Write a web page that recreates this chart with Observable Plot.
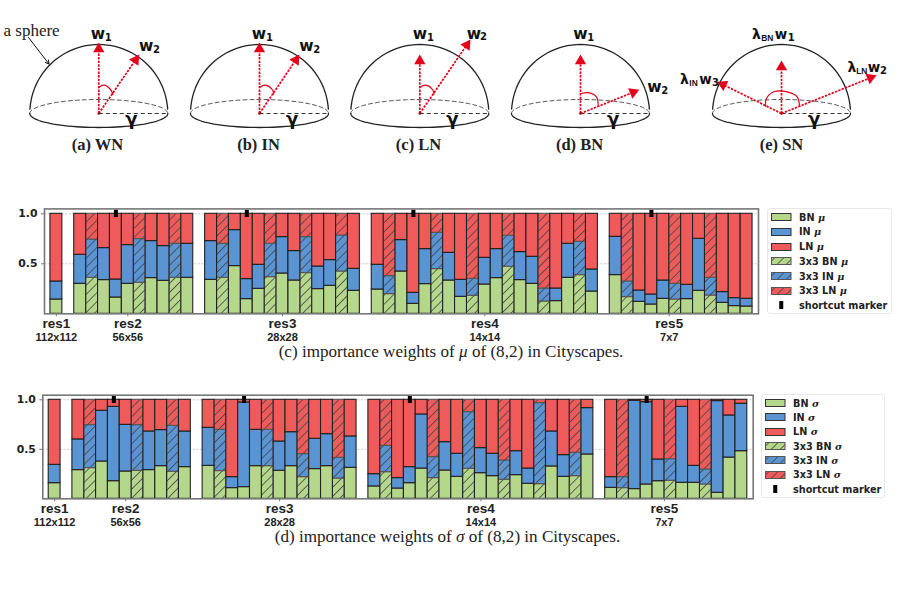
<!DOCTYPE html>
<html>
<head>
<meta charset="utf-8">
<script src="https://cdn.jsdelivr.net/npm/d3@7"></script>
<script src="https://cdn.jsdelivr.net/npm/@observablehq/plot@0.6"></script>
<style>
  html, body { margin: 0; padding: 0; background: #fff; }
  #page { position: relative; width: 900px; height: 600px; overflow: hidden; background: #fff; }
  .layer { position: absolute; left: 0; }
  .layer svg { display: block; overflow: visible; background: transparent; }
  .caption { position: absolute; transform: translate(-50%, -50%); white-space: nowrap;
             font-family: "Liberation Serif", serif; font-size: 17.1px; color: #222; }
  .legend { position: absolute; box-sizing: border-box; border: 1px solid #e8e8e8; border-radius: 3px; background: #fff; }
  .legend .row { position: absolute; left: 0; display: flex; align-items: center; height: 12px;
                 font-family: "DejaVu Sans", sans-serif; font-weight: 700; font-size: 9.7px; color: #222; white-space: nowrap; }
  .legend .row svg { flex: none; margin-left: 3.5px; margin-right: 7.5px; }
  .legend .row i { font-family: "DejaVu Serif", serif; }
</style>
</head>
<body>
<svg width="0" height="0" style="position:absolute">
  <defs id="defs"></defs>
</svg>
<div id="page"></div>
<script>
// ---------- colours ----------
const green = "#b5d78c", blue = "#5b94d3", red = "#ef5b5b";
const redArrow = "#e3001b";

// ---------- bar layout ----------
const resNames = ["res1", "res2", "res3", "res4", "res5"];
const resSizes = ["112x112", "56x56", "28x28", "14x14", "7x7"];
const resStart = [0, 2, 13, 27, 47];
const resCount = [1, 10, 13, 19, 12];
const resCenters = [0.5, 6.5, 19.5, 36.5, 52];
const hatchedSlots = [3, 7, 10, 14, 18, 21, 24, 28, 32, 35, 38, 41, 44, 48, 52, 55];
const shortcutSlots = [5, 16, 30, 50];

// ---------- (c) importance weights of mu ----------
const muBN = [0.143,
  0.30, 0.36, 0.337, 0.163, 0.30, 0.31, 0.357, 0.33, 0.36, 0.36,
  0.34, 0.36, 0.477, 0.147, 0.25, 0.367, 0.403, 0.333, 0.407, 0.247, 0.28, 0.423, 0.23,
  0.243, 0.197, 0.423, 0.10, 0.297, 0.447, 0.333, 0.17, 0.18, 0.293, 0.357, 0.47, 0.337, 0.30, 0.123, 0.127, 0.36, 0.387, 0.223,
  0.387, 0.167, 0.12, 0.093, 0.15, 0.143, 0.147, 0.23, 0.183, 0.11, 0.077, 0.073];
const muBNplusIN = [0.323,
  0.59, 0.743, 0.657, 0.343, 0.687, 0.747, 0.727, 0.677, 0.70, 0.70,
  0.727, 0.70, 0.837, 0.347, 0.49, 0.70, 0.767, 0.627, 0.767, 0.473, 0.537, 0.783, 0.45,
  0.49, 0.377, 0.737, 0.21, 0.647, 0.81, 0.61, 0.34, 0.35, 0.56, 0.647, 0.78, 0.617, 0.57, 0.253, 0.253, 0.70, 0.72, 0.443,
  0.77, 0.323, 0.233, 0.193, 0.333, 0.30, 0.29, 0.75, 0.36, 0.217, 0.157, 0.15];

// ---------- (d) importance weights of sigma ----------
const sigmaBN = [0.158,
  0.29, 0.31, 0.377, 0.178, 0.276, 0.283, 0.29, 0.33, 0.273, 0.32,
  0.333, 0.28, 0.108, 0.118, 0.33, 0.33, 0.283, 0.33, 0.219, 0.30, 0.33, 0.205, 0.313,
  0.125, 0.269, 0.104, 0.158, 0.306, 0.209, 0.286, 0.222, 0.303, 0.259, 0.229, 0.192, 0.239, 0.152, 0.148, 0.327, 0.222, 0.229, 0.448,
  0.111, 0.108, 0.098, 0.145, 0.178, 0.182, 0.162, 0.162, 0.145, 0.061, 0.417, 0.481];
const sigmaBNplusIN = [0.343,
  0.60, 0.744, 0.889, 0.929, 0.747, 0.744, 0.68, 0.694, 0.737, 0.68,
  0.717, 0.697, 0.219, 0.973, 0.697, 0.697, 0.579, 0.673, 0.451, 0.606, 0.653, 0.414, 0.63,
  0.249, 0.535, 0.209, 0.32, 0.852, 0.421, 0.572, 0.455, 0.875, 0.512, 0.455, 0.387, 0.481, 0.306, 0.966, 0.68, 0.441, 0.465, 0.916,
  0.219, 0.219, 0.99, 0.976, 0.397, 0.40, 0.929, 0.333, 0.296, 0.987, 0.842, 0.96];

// ---------- sphere diagrams ----------
const domeCenters = [98.3, 259, 419.3, 580, 781];
const domeBaseY = 113;
const domeRadius = 69;
const domeFlat = 14;
const panelNames = ["(a) WN", "(b) IN", "(c) LN", "(d) BN", "(e) SN"];
const panelNameX = [97, 258, 418, 579, 781];
const arrowDome = [0, 0, 1, 1, 2, 2, 3, 3, 4, 4, 4];
const arrowDx = [0, 38.7, 0, 38.3, 0, 49, 0, 56, 0, 92.3, -61.7];
const arrowDy = [-68, -56.5, -68, -56.5, -56, -71.5, -56, -22.5, -50, -37, -30.5];
const angleDome = [0, 1, 2, 3, 4];
const angleDx = [[0, 5, 11.7, 14.3], [0, 6, 12.7, 14.3], [0, 6, 12.7, 14.3], [0, 9.3, 16, 17.7], [-16, -15, -7.7, 5.7, 15.7, 18]];
const angleDy = [[-26, -28.3, -24, -19], [-26, -28.3, -24, -19.3], [-26, -28.3, -24, -19.3], [-20, -20.7, -16.7, -8.3], [-7.3, -15, -21.7, -21.7, -16.7, -7.3]];
const bigLabelText = ["w", "w", "w", "w", "w", "w", "w", "w", "w", "w", "w"];
const bigLabelX = [97.3, 145.7, 258.3, 306, 419.3, 473.3, 580, 654, 780.5, 873.5, 705];
const bigLabelY = [34, 46, 34, 46, 34, 33.5, 34, 87, 34, 67, 79];
const bigLabelSize = [15.5, 15.5, 15.5, 15.5, 15.5, 15.5, 15.5, 15.5, 13.5, 13.5, 13.5];
const smallLabelText = ["1", "2", "1", "2", "1", "2", "1", "2", "1", "2", "3"];
const smallLabelX = [107.8, 156, 268.9, 316.3, 430, 483, 590.3, 664.3, 790.7, 883, 715];
const smallLabelY = [37, 49, 37, 49, 37, 36.5, 37, 90, 37, 70, 82];
const lambdaX = [756, 851.5, 684];
const lambdaY = [34, 67, 79];
const lambdaSub = ["BN", "LN", "IN"];
const lambdaSubX = [766.7, 861.3, 693];
const lambdaSubY = [37.5, 70.5, 82.5];

// ---------- legends ----------
const legendSeries = ["BN", "IN", "LN", "3x3 BN", "3x3 IN", "3x3 LN"];
const legendFills = [green, blue, red, "url(#hatchBN)", "url(#hatchIN)", "url(#hatchLN)"];

// ---------- hatch patterns ----------
document.getElementById("defs").innerHTML = [["hatchBN", green], ["hatchIN", blue], ["hatchLN", red]].map(([id, c]) =>
  `<pattern id="${id}" width="6.4" height="6.4" patternUnits="userSpaceOnUse" patternTransform="rotate(45)">
     <rect width="6.4" height="6.4" fill="${c}"/>
     <line x1="3.2" y1="0" x2="3.2" y2="6.4" stroke="#444" stroke-width="0.8"/>
   </pattern>`).join("");

const page = document.getElementById("page");

function addLayer(node, top) {
  const d = document.createElement("div");
  d.className = "layer";
  d.style.top = top + "px";
  d.appendChild(node);
  page.appendChild(d);
}

// ---------- top diagrams ----------
function sweep(cx, cy, rx, ry, a0, a1) {
  return d3.range(0, 49).map(i => {
    const a = a0 + (a1 - a0) * i / 48;
    return {x: cx + rx * Math.cos(a), y: cy + ry * Math.sin(a)};
  });
}
function drawDiagrams() {
  const R = domeRadius;
  const domes = domeCenters.flatMap((c, k) => sweep(c, domeBaseY, R, R, Math.PI * 1.02, Math.PI * 1.98).map(p => ({...p, k})));
  const lower = domeCenters.flatMap((c, k) => sweep(c, domeBaseY, R, domeFlat, 0, Math.PI).map(p => ({...p, k})));
  const upper = domeCenters.flatMap((c, k) => sweep(c, domeBaseY, R, domeFlat, Math.PI, Math.PI * 2).map(p => ({...p, k})));
  const arrows = arrowDome.map((k, i) => {
    const len = Math.hypot(arrowDx[i], arrowDy[i]);
    const ux = arrowDx[i] / len, uy = arrowDy[i] / len;
    const cx = domeCenters[k], tipX = cx + arrowDx[i], tipY = domeBaseY + arrowDy[i];
    return {x1: cx, y1: domeBaseY, x2: tipX - ux * 5, y2: tipY - uy * 5,
            hx: tipX - ux * 3.5, hy: tipY - uy * 3.5, rot: Math.atan2(ux, -uy) * 180 / Math.PI};
  });
  const angles = angleDome.flatMap((k, i) => angleDx[i].map((dx, j) => ({k, x: domeCenters[k] + dx, y: domeBaseY + angleDy[i][j]})));
  const bigLabels = bigLabelText.map((t, i) => ({t, x: bigLabelX[i], y: bigLabelY[i], s: bigLabelSize[i]}));
  const smallLabels = smallLabelText.map((t, i) => ({t, x: smallLabelX[i], y: smallLabelY[i]}));
  const lambdas = lambdaX.map((x, i) => ({t: "λ", x, y: lambdaY[i]}));
  const lambdaSubs = lambdaSub.map((t, i) => ({t, x: lambdaSubX[i], y: lambdaSubY[i]}));

  const plot = Plot.plot({
    width: 900, height: 190, margin: 0,
    x: {domain: [0, 900], range: [0, 900], axis: null},
    y: {domain: [0, 190], range: [0, 190], axis: null},
    marks: [
      Plot.line(upper, {x: "x", y: "y", z: "k", stroke: "#444", strokeWidth: 0.9, strokeDasharray: "4,3"}),
      Plot.line(lower, {x: "x", y: "y", z: "k", stroke: "#222", strokeWidth: 1.3}),
      Plot.line(domes, {x: "x", y: "y", z: "k", stroke: "#222", strokeWidth: 1.3}),
      Plot.link(domeCenters, {x1: d => d, x2: d => d + domeRadius, y1: domeBaseY, y2: domeBaseY, stroke: "#333", strokeWidth: 1, strokeDasharray: "4,3"}),
      Plot.line(angles, {x: "x", y: "y", z: "k", stroke: redArrow, strokeWidth: 1.2, curve: "catmull-rom"}),
      Plot.link(arrows, {x1: "x1", y1: "y1", x2: "x2", y2: "y2", stroke: redArrow, strokeWidth: 1.7, strokeDasharray: "2.4,1.2"}),
      Plot.dot(arrows, {x: "hx", y: "hy", symbol: "triangle", r: 4.2, rotate: "rot", fill: redArrow, stroke: "none"}),
      Plot.dot(domeCenters, {x: d => d, y: domeBaseY, r: 1.3, fill: "#a00", stroke: "none"}),
      Plot.text(bigLabels, {x: "x", y: "y", text: "t", fontFamily: "DejaVu Sans", fontWeight: 700, fontSize: "s", fill: "#111"}),
      Plot.text(smallLabels, {x: "x", y: "y", text: "t", fontFamily: "DejaVu Sans", fontWeight: 700, fontSize: 10, fill: "#111"}),
      Plot.text(lambdas, {x: "x", y: "y", text: "t", fontFamily: "DejaVu Sans", fontWeight: 700, fontSize: 14, fill: "#111"}),
      Plot.text(lambdaSubs, {x: "x", y: "y", text: "t", fontFamily: "Liberation Sans", fontWeight: 700, fontSize: 8.4, fill: "#111"}),
      Plot.text(domeCenters, {x: d => d + 32.5, y: 119, text: () => "γ", fontFamily: "DejaVu Sans", fontWeight: 700, fontSize: 18, fill: "#111"}),
      Plot.text(panelNames, {x: (d, i) => panelNameX[i], y: 144, text: d => d, fontFamily: "Liberation Serif", fontWeight: 700, fontSize: 16.5, fill: "#222"}),
      Plot.text(["a sphere"], {x: 3, y: 30.5, text: d => d, textAnchor: "start", fontFamily: "Liberation Serif", fontSize: 17, fill: "#222"}),
      Plot.arrow([0], {x1: 28, y1: 37, x2: 48.5, y2: 63.5, bend: false, stroke: "#111", strokeWidth: 1, headLength: 6})
    ]
  });
  addLayer(plot, 0);
}

// ---------- stacked bars ----------
function barChart({bn, top, frame, symbol, caption, captionX, captionY}) {
  const {svgTop, svgHeight, left, right, zeroY, unit, frameTop} = frame;
  const slots = resStart.flatMap((s, r) => d3.range(s, s + resCount[r]));
  const rows = slots.flatMap((slot, i) => {
    const hatched = hatchedSlots.includes(slot);
    const p = hatched ? "3x3 " : "";
    return [
      {slot, key: p + "BN", hatched, y1: 0, y2: bn[i]},
      {slot, key: p + "IN", hatched, y1: bn[i], y2: top[i]},
      {slot, key: p + "LN", hatched, y1: top[i], y2: 1}
    ];
  });
  const barOpts = {
    x1: d => d.slot, x2: d => d.slot + 1, y1: "y1", y2: "y2", fill: "key",
    strokeWidth: 1.1, inset: 0
  };
  const yMax = (zeroY - frameTop) / unit;
  const plot = Plot.plot({
    width: 900, height: svgHeight,
    marginTop: frameTop - svgTop, marginBottom: svgTop + svgHeight - zeroY,
    marginLeft: left, marginRight: 900 - right,
    x: {domain: [-0.5, 59.5], axis: null},
    y: {domain: [0, yMax], axis: null},
    color: {domain: legendSeries, range: legendFills},
    marks: [
      Plot.ruleY([0.5, 1], {stroke: "#c8c8c8", strokeWidth: 1, strokeDasharray: "2,1.5"}),
      Plot.rectY(rows.filter(d => d.hatched), {...barOpts, stroke: "#555"}),
      Plot.rectY(rows.filter(d => !d.hatched), {...barOpts, stroke: "#222"}),
      Plot.ruleX(shortcutSlots, {x: d => d + 0.5, y1: 0.963, y2: 1.037, stroke: "#000", strokeWidth: 4}),
      Plot.frame({stroke: "#777", strokeWidth: 1.6}),
      Plot.axisY({ticks: [0.5, 1], tickFormat: ".1f", label: null, tickSize: 3, tickPadding: 4, stroke: "#777",
                  fontFamily: "DejaVu Sans", fontWeight: 700, fontSize: 10.8, fill: "#222"}),
      Plot.ruleX(resCenters, {x: d => d, y1: -0.03, y2: 0, stroke: "#777", strokeWidth: 1}),
      Plot.text(resCenters, {x: d => d, frameAnchor: "bottom", lineAnchor: "middle", dy: 10, text: (d, i) => resNames[i],
                  fontFamily: "Liberation Sans", fontWeight: 700, fontSize: 13.5, fill: "#222"}),
      Plot.text(resCenters, {x: d => d, frameAnchor: "bottom", lineAnchor: "middle", dy: 23.3, text: (d, i) => resSizes[i],
                  fontFamily: "Liberation Sans", fontWeight: 700, fontSize: 11, fill: "#222"})
    ]
  });
  addLayer(plot, svgTop);

  const cap = document.createElement("div");
  cap.className = "caption";
  cap.style.left = captionX + "px";
  cap.style.top = captionY + "px";
  cap.innerHTML = `${caption} importance weights of <i>${symbol}</i> of (8,2) in Cityscapes.`;
  page.appendChild(cap);
}

function legend({x, y, w, h, firstRow, rowStep, symbol, swatchW}) {
  const box = document.createElement("div");
  box.className = "legend";
  Object.assign(box.style, {left: x + "px", top: y + "px", width: w + "px", height: h + "px"});
  legendSeries.forEach((name, i) => {
    const row = document.createElement("div");
    row.className = "row";
    row.style.top = (firstRow + i * rowStep - 6) + "px";
    row.innerHTML = `<svg width="${swatchW}" height="8"><rect x="0.5" y="0.5" width="${swatchW - 1}" height="7" fill="${legendFills[i]}" stroke="${i > 2 ? "#555" : "#333"}" stroke-width="1"/></svg><span>${name} <i>${symbol}</i></span>`;
    box.appendChild(row);
  });
  const last = document.createElement("div");
  last.className = "row";
  last.style.top = (firstRow + 6 * rowStep - 6) + "px";
  last.innerHTML = `<svg width="${swatchW}" height="8"><rect x="${swatchW / 2 - 2}" y="0" width="4" height="8" fill="#000"/></svg><span>shortcut marker</span>`;
  box.appendChild(last);
  page.appendChild(box);
}

drawDiagrams();

barChart({
  bn: muBN, top: muBNplusIN, symbol: "μ", caption: "(c)", captionX: 451, captionY: 351.5,
  frame: {svgTop: 195, svgHeight: 150, left: 44, right: 758, zeroY: 313.3, unit: 100, frameTop: 208.4}
});
barChart({
  bn: sigmaBN, top: sigmaBNplusIN, symbol: "σ", caption: "(d)", captionX: 447.5, captionY: 536.5,
  frame: {svgTop: 381, svgHeight: 150, left: 42.3, right: 752.7, zeroY: 498.3, unit: 99, frameTop: 394.7}
});
legend({x: 766.5, y: 208.3, w: 125.5, h: 106, firstRow: 8, rowStep: 14.7, symbol: "μ", swatchW: 20.5});
legend({x: 760.5, y: 394, w: 124.5, h: 104, firstRow: 8, rowStep: 14.35, symbol: "σ", swatchW: 20.5});
</script>
</body>
</html>
